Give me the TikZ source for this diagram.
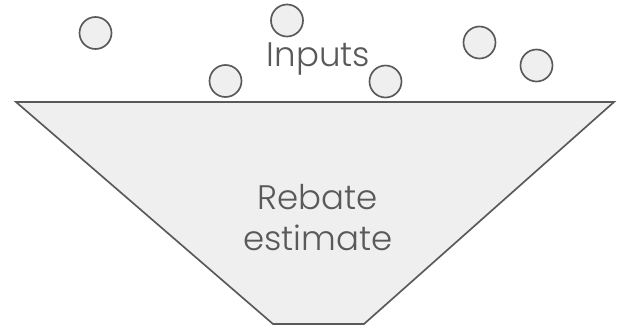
\documentclass[tikz,border=0pt]{standalone}
\usepackage{fontspec}
\setmainfont{Poppins}[UprightFont={* Light}]
\usepackage{xcolor}
\definecolor{linegray}{HTML}{595959}
\definecolor{fillgray}{HTML}{EFEFEF}

\begin{document}
\begin{tikzpicture}[x=0.75pt, y=-0.75pt]
    % Define styles
    \tikzset{input/.style = {circle, draw=linegray, fill=fillgray, line width=1.25pt, minimum size=32*0.75pt, inner sep=0pt}}
    \tikzset{caption/.style = {text=linegray, font=\fontsize{25.5}{30.75}\selectfont, align=center, inner sep=0pt}}
    \useasboundingbox (0,0) rectangle (617,328);

    % Funnel body
    \draw[draw=linegray, fill=fillgray, line width=1.25pt, line join=miter]
        (16,102) -- (614,102) -- (364,324) -- (273,324) -- cycle;
    \node[caption, anchor=base] (estimate) at (318,250) {Rebate\\estimate};

    % Inputs falling in
    \node[input] (in1) at (95.5,33) {};
    \node[input] (in2) at (287,20.5) {};
    \node[input] (in3) at (225.5,81) {};
    \node[input] (in4) at (385.5,81.5) {};
    \node[input] (in5) at (479.5,42.5) {};
    \node[input] (in6) at (536.5,65.5) {};
    \node[caption, anchor=base] (inputs) at (318.5,67) {Inputs};
\end{tikzpicture}
\end{document}
